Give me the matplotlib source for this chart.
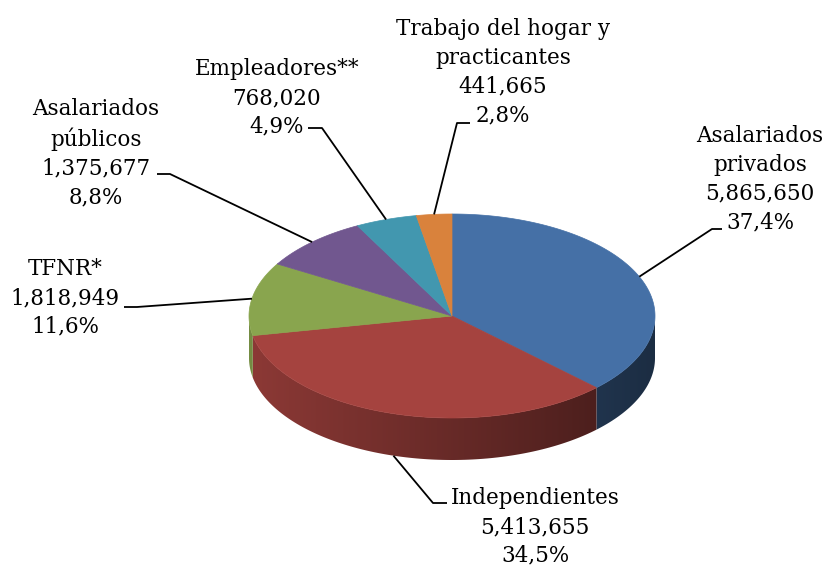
import numpy as np
import matplotlib
matplotlib.use("Agg")
import matplotlib.pyplot as plt
from matplotlib.patches import Polygon

# data
names = ["Asalariados\nprivados", "Independientes", "TFNR*",
         "Asalariados\npúblicos", "Empleadores**", "Trabajo del hogar y\npracticantes"]
values = [5865650, 5413655, 1818949, 1375677, 768020, 441665]
colors = ["#4570A6", "#A5433F", "#89A54E", "#71578F", "#4297AF", "#D9823C"]

# label block centers and leader elbows (pixel layout)
label_pos = [(760, 179), (535, 527), (65, 298), (96, 153), (277, 98), (503, 72)]
leader_txt = [(722, 229), (447, 503), (124, 307), (157, 174), (308, 128), (470, 123)]
leader_elb = [(712, 229), (433, 503), (137, 307), (170, 174), (322, 128), (457, 123)]

cx, cy, a, b, depth = 452, 316, 203, 102, 42

fig = plt.figure(figsize=(8.3, 5.68), dpi=100)
ax = fig.add_axes([0, 0, 1, 1])
ax.axis("off")

vals = np.array(values, dtype=float)
fracs = vals / vals.sum()
ends = 90 - np.cumsum(fracs) * 360
starts = np.concatenate([[90], ends[:-1]])


def pt(phi, h=0.0):
    r = np.radians(phi)
    return cx + a * np.cos(r), cy - b * np.sin(r) + h


# side walls (front half only) with a horizontal gradient
gx = np.linspace(cx - a, cx + a, 400)
fac = 0.85 - 0.45 * (gx - (cx - a)) / (2 * a)
for s, e, col in zip(starts, ends, colors):
    lo, hi = max(e, -180.0), min(s, 0.0)
    # visible front rim is between -180 and 0 degrees (also 180..360 wrapped)
    segs = []
    if hi > lo:
        segs.append((hi, lo))
    lo2, hi2 = max(e, 180.0), min(s, 360.0)
    if hi2 > lo2:
        segs.append((hi2, lo2))
    lo3, hi3 = max(e, -540.0), min(s, -360.0)
    if hi3 > lo3:
        segs.append((hi3, lo3))
    for p0, p1 in segs:
        phis = np.linspace(p0, p1, 120)
        top = [pt(p) for p in phis]
        bot = [pt(p, depth) for p in phis[::-1]]
        poly = Polygon(top + bot, closed=True, fc="none", ec="none")
        ax.add_patch(poly)
        rgb = np.array(matplotlib.colors.to_rgb(col))
        img = np.clip(fac[None, :, None] * rgb[None, None, :], 0, 1)
        im = ax.imshow(img, extent=(cx - a, cx + a, cy + b + depth + 2, cy - 5),
                       aspect="auto", interpolation="bilinear", zorder=1)
        im.set_clip_path(poly)

# top faces
for s, e, col in zip(starts, ends, colors):
    phis = np.linspace(s, e, 200)
    xy = [(cx, cy)] + [pt(p) for p in phis]
    ax.add_patch(Polygon(xy, closed=True, fc=col, ec=col, lw=0.5, zorder=2))

# labels and leader lines
for i, (nm, v, f) in enumerate(zip(names, values, fracs)):
    pct = f"{f * 100:.1f}%".replace(".", ",")
    txt = f"{nm}\n{v:,}\n{pct}"
    ax.text(label_pos[i][0], label_pos[i][1], txt, ha="center", va="center",
            multialignment="center", fontsize=15.5, family="DejaVu Serif",
            linespacing=1.4, color="black", zorder=3)
    mid = (starts[i] + ends[i]) / 2
    px, py = pt(mid)
    if np.sin(np.radians(mid)) < 0:
        py += depth
    xs = [leader_txt[i][0], leader_elb[i][0], px]
    ys = [leader_txt[i][1], leader_elb[i][1], py]
    ax.plot(xs, ys, color="black", lw=1.3, solid_capstyle="butt", zorder=3)

ax.set_xlim(0, 830)
ax.set_ylim(568, 0)
fig.savefig("out.png", dpi=100)
